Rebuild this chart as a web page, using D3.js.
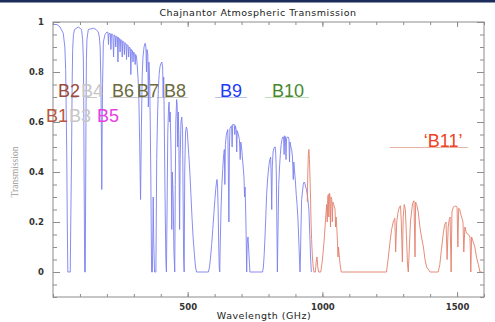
<!DOCTYPE html>
<html>
<head>
<meta charset="utf-8">
<script src="https://cdn.jsdelivr.net/npm/d3@7"></script>
<style>
  body { margin: 0; background: #fff; }
  svg { display: block; }
</style>
</head>
<body>
<div id="chart"></div>
<script>
// transmission, [GHz, transmission]
const lowFreq = [
  [0,0.99],[15,0.99],[26,0.98],[38,0.955],[44,0.9],[47,0.81],[49,0.65],[51,0.48],[53,0.2],[55,0.0],
  [64,0.0],[66,0.2],[69,0.48],[71,0.75],[73,0.89],[76,0.95],[80,0.97],[94,0.98],[106,0.97],[110,0.93],
  [112.5,0.86],[114,0.7],[115,0.48],[116.5,0.2],[117.5,0.0],[120,0.0],[121,0.3],[122.5,0.62],[124,0.85],
  [126,0.93],[131,0.97],[150,0.975],[160,0.97],[168,0.96],[172,0.94],[175,0.9],[178,0.75],[180,0.5],
  [181,0.33],[182,0.5],[184,0.75],[187,0.92],[193,0.95],[200,0.96]
];
const b6b7 = [
  [204,0.958],[206,0.91],[208,0.955],[213,0.953],[215,0.89],[217,0.952],[222,0.95],[225,0.86],[227,0.948],
  [231,0.945],[233,0.9],[235,0.943],[239,0.94],[241,0.84],[243,0.938],[247,0.933],[249,0.88],[251,0.93],
  [255,0.927],[257,0.86],[259,0.924],[263,0.92],[265,0.87],[267,0.917],[271,0.913],[273,0.85],[275,0.91],
  [279,0.905],[281,0.86],[283,0.9],[287,0.895],[289,0.79],[291,0.89],[295,0.885],[297,0.84],[299,0.88],
  [303,0.875],[305,0.83],[307,0.87],[310,0.86],[313,0.82],[316,0.77],[319,0.68],[322,0.5],[325,0.29],
  [328,0.56],[331,0.78],[334,0.86],[338,0.9],[342,0.915],[345,0.9],[347,0.8],[349,0.89],[352,0.87],
  [354,0.66],[356,0.84],[359,0.76],[361,0.6],[363,0.4],[366,0.0]
];
const b8 = [
  [369,0.0],[372,0.3],[374,0.12],[377,0.0],[382,0.0],[385,0.45],[388,0.62],[391,0.73],[394,0.79],
  [397,0.82],[401,0.835],[404,0.84],[407,0.82],[409,0.7],[411,0.78],[413,0.6],[416,0.3],[419,0.05],
  [421,0.0],[423,0.2],[426,0.55],[429,0.66],[431,0.68],[433,0.6],[435,0.64],[438,0.5],[440,0.3],
  [441,0.17],[443,0.4],[446,0.3],[449,0.08],[452,0.0],[454,0.35],[456,0.6],[459,0.69],[461,0.67],
  [463,0.5],[465,0.64],[467,0.55],[469,0.3],[470,0.17],[472,0.45],[475,0.6],[478,0.62],[481,0.57],
  [483,0.3],[485,0.05],[487,0.0],[489,0.4],[492,0.56],[495,0.58],[498,0.57],[501,0.52],[504,0.47],
  [508,0.4],[512,0.31],[516,0.22],[520,0.14],[525,0.07],[529,0.02],[533,0.0]
];
const b9 = [
  [577,0.0],[581,0.02],[585,0.06],[589,0.11],[593,0.17],[597,0.23],[601,0.29],[604,0.33],[607,0.36],
  [609,0.37],[611,0.34],[613,0.25],[615,0.12],[617,0.02],[619,0.0],[621,0.12],[624,0.26],[627,0.35],
  [630,0.41],[633,0.46],[636,0.49],[638,0.35],[640,0.51],[643,0.545],[646,0.56],[649,0.57],[651,0.4],
  [653,0.2],[655,0.5],[657,0.575],[660,0.58],[663,0.585],[665,0.5],[667,0.59],[670,0.59],[673,0.59],
  [675,0.55],[677,0.585],[680,0.57],[682,0.48],[684,0.565],[688,0.55],[692,0.53],[695,0.45],[697,0.52],
  [700,0.5],[703,0.46],[706,0.42],[709,0.38],[711,0.3],[713,0.34],[715,0.26],[717,0.15],[719,0.0],
  [721,0.12],[724,0.14],[727,0.08],[731,0.0],[778,0.0]
];
const b10 = [
  [781,0.02],[784,0.07],[787,0.14],[790,0.22],[793,0.31],[796,0.36],[799,0.4],[802,0.43],[805,0.45],
  [808,0.46],[810,0.38],[812,0.25],[814,0.42],[817,0.48],[820,0.495],[823,0.5],[825,0.5],[827,0.47],
  [829,0.4],[831,0.2],[833,0.0],[835,0.15],[838,0.35],[841,0.42],[844,0.47],[847,0.51],[850,0.53],
  [853,0.54],[856,0.54],[858,0.47],[860,0.545],[863,0.54],[865,0.45],[867,0.535],[870,0.54],[873,0.54],
  [876,0.53],[878,0.44],[880,0.52],[883,0.5],[886,0.49],[889,0.46],[892,0.37],[894,0.44],[897,0.4],
  [900,0.36],[903,0.31],[906,0.27],[909,0.22],[912,0.14],[915,0.05],[917,0.0],[919,0.08],[921,0.2],
  [923,0.29],[926,0.32],[929,0.35],[932,0.36],[935,0.355],[938,0.34],[941,0.33],[944,0.31],[947,0.28],
  [950,0.25],[953,0.16],[956,0.06],[959,0.0]
];
const highFreq = [
  [944,0.28],[946,0.4],[948,0.47],[950,0.49],[952,0.45],[954,0.38],[956,0.3],[958,0.2],[960,0.13],
  [963,0.06],[966,0.02],[969,0.0],[974,0.0],[977,0.04],[980,0.06],[983,0.02],[986,0.0],[994,0.0],
  [998,0.03],[1002,0.07],[1006,0.12],[1010,0.18],[1013,0.23],[1016,0.27],[1018,0.2],[1020,0.3],
  [1022,0.31],[1024,0.22],[1026,0.315],[1028,0.31],[1030,0.18],[1032,0.3],[1035,0.29],[1037,0.2],
  [1039,0.28],[1042,0.27],[1045,0.26],[1047,0.25],[1049,0.18],[1051,0.22],[1054,0.17],[1056,0.12],
  [1058,0.06],[1060,0.1],[1063,0.06],[1066,0.03],[1070,0.0],[1238,0.0],
  [1245,0.06],[1251,0.12],[1257,0.17],[1263,0.2],[1269,0.215],[1272,0.08],[1276,0.2],[1281,0.24],
  [1286,0.26],[1290,0.265],[1293,0.2],[1297,0.04],[1300,0.22],[1304,0.27],[1308,0.25],[1312,0.15],
  [1316,0.03],[1319,0.0],[1323,0.1],[1327,0.2],[1331,0.24],[1335,0.275],[1340,0.285],[1344,0.06],
  [1346,0.28],[1350,0.27],[1356,0.24],[1362,0.18],[1368,0.14],[1375,0.1],[1381,0.05],[1387,0.02],
  [1400,0.0],[1430,0.0],
  [1436,0.03],[1442,0.09],[1449,0.155],[1454,0.19],[1459,0.2],[1463,0.05],[1467,0.18],[1471,0.21],
  [1474,0.22],[1478,0.0],[1481,0.24],[1486,0.26],[1491,0.263],[1496,0.264],[1500,0.26],[1503,0.1],
  [1506,0.255],[1510,0.25],[1514,0.23],[1517,0.22],[1522,0.2],[1525,0.08],[1529,0.18],[1535,0.155],
  [1542,0.15],[1548,0.14],[1551,0.0],[1554,0.14],[1560,0.12],[1566,0.1],[1572,0.06],[1579,0.03],
  [1585,0.0],[1592,0.0]
];

// ALMA bands
const bandNames = ['B1', 'B2', 'B3', 'B4', 'B5', 'B6', 'B7', 'B8', 'B9', 'B10', '\u2018B11\u2019'];
const bandLo    = [31, 67, 84, 125, 163, 211, 275, 385, 602, 787, 1250];
const bandHi    = [45, 90, 116, 163, 211, 275, 373, 500, 720, 950, 1540];
const bandLevel = [0.6, 0.7, 0.6, 0.7, 0.6, 0.7, 0.7, 0.7, 0.7, 0.7, 0.5];
const labelAt   = [15, 59, 100, 145, 204, 260, 353, 453, 661, 872, 1448];

const yTicks = [0, 0.2, 0.4, 0.6, 0.8, 1];
const xTicks = [500, 1000, 1500];

const bandColor = ['#b9573f', '#9c4a3b', '#c6c6c6', '#c6c6c6', '#e640e6', '#6a6a3c', '#6a6a3c',
                   '#6a6a3c', '#1e3cf5', '#44892c', '#f0421e'];
const lineColor = ['#c8c8c8', '#c8c8c8', '#c8c8c8', '#c8c8c8', '#c8c8c8', '#c8c8c8', '#c8c8c8',
                   '#c8c8c8', '#b8c2ea', '#c2ddb4', '#e9b2a4'];

const width = 495, height = 322;
const margin = { top: 22, right: 11, bottom: 25, left: 53 };

const svg = d3.select('#chart').append('svg')
  .attr('width', width)
  .attr('height', height);

svg.append('rect')
  .attr('width', width).attr('height', 2.5)
  .attr('fill', '#1b2b5c');

const x = d3.scaleLinear().domain([0, 1600]).range([margin.left, width - margin.right]);
const y = d3.scaleLinear().domain([-0.1, 1]).range([height - margin.bottom, margin.top]);

const line = d3.line().x(d => x(d[0])).y(d => y(d[1]));

// band range lines
svg.append('g')
  .selectAll('line')
  .data(bandNames.map((n, i) => i).filter(i => bandLevel[i] !== 0.6))
  .enter().append('line')
  .attr('x1', i => x(bandLo[i]))
  .attr('x2', i => x(bandHi[i]))
  .attr('y1', i => y(bandLevel[i]) + 0.5)
  .attr('y2', i => y(bandLevel[i]) + 0.5)
  .style('stroke', i => lineColor[i])
  .style('stroke-width', 1);

const blue = [].concat(lowFreq, b6b7, b8, b9, b10);

svg.append('path')
  .datum(blue)
  .attr('d', line)
  .style('fill', 'none')
  .style('stroke', '#7a80ee')
  .style('stroke-width', 0.9)
  .style('stroke-linejoin', 'round');

svg.append('path')
  .datum(highFreq)
  .attr('d', line)
  .style('fill', 'none')
  .style('stroke', '#e2806c')
  .style('stroke-width', 0.9)
  .style('stroke-linejoin', 'round');

// frame and ticks
const axes = svg.append('g').attr('class', 'axes');
const minorY = d3.range(-2, 21).map(k => k * 0.05);
const minorX = d3.range(0, 17).map(k => k * 100);

function styleAxis(g) {
  g.select('.domain').remove();
  g.selectAll('line').style('stroke', '#8c8c8c');
  g.selectAll('text')
    .style('font-family', 'DejaVu Sans, sans-serif')
    .style('font-weight', 'bold')
    .style('font-size', '8.5px')
    .style('fill', '#333');
}

axes.append('g').attr('transform', `translate(${margin.left},0)`)
  .call(d3.axisLeft(y).tickValues(minorY).tickSize(-4).tickFormat('')).call(styleAxis);
axes.append('g').attr('transform', `translate(${margin.left},0)`)
  .call(d3.axisLeft(y).tickValues(yTicks).tickSize(-7).tickPadding(9).tickFormat(d => String(d))).call(styleAxis);
axes.append('g').attr('transform', `translate(${width - margin.right},0)`)
  .call(d3.axisRight(y).tickValues(minorY).tickSize(-4).tickFormat('')).call(styleAxis);
axes.append('g').attr('transform', `translate(${width - margin.right},0)`)
  .call(d3.axisRight(y).tickValues(yTicks).tickSize(-7).tickFormat('')).call(styleAxis);
axes.append('g').attr('transform', `translate(0,${height - margin.bottom})`)
  .call(d3.axisBottom(x).tickValues(minorX).tickSize(-3).tickFormat('')).call(styleAxis);
axes.append('g').attr('transform', `translate(0,${height - margin.bottom})`)
  .call(d3.axisBottom(x).tickValues(xTicks).tickSize(-5).tickPadding(7).tickFormat(d => String(d))).call(styleAxis);
axes.append('g').attr('transform', `translate(0,${margin.top})`)
  .call(d3.axisTop(x).tickValues(minorX).tickSize(-3).tickFormat('')).call(styleAxis);
axes.append('g').attr('transform', `translate(0,${margin.top})`)
  .call(d3.axisTop(x).tickValues(xTicks).tickSize(-5).tickFormat('')).call(styleAxis);

axes.append('rect')
  .attr('x', margin.left).attr('y', margin.top)
  .attr('width', width - margin.left - margin.right)
  .attr('height', height - margin.top - margin.bottom)
  .style('fill', 'none')
  .style('stroke', '#8c8c8c');

// band labels
svg.append('g')
  .selectAll('text')
  .data(bandNames)
  .enter().append('text')
  .attr('x', (d, i) => x(labelAt[i]))
  .attr('y', (d, i) => y(bandLevel[i]) - 0.5)
  .attr('text-anchor', 'middle')
  .style('font-family', 'Liberation Sans, Arial, sans-serif')
  .style('font-size', '18px')
  .style('fill', (d, i) => bandColor[i])
  .text(d => d);

// titles
svg.append('text')
  .attr('x', 258).attr('y', 16)
  .attr('text-anchor', 'middle')
  .style('font-family', 'DejaVu Sans, sans-serif')
  .style('font-size', '9.5px')
  .style('letter-spacing', '0.5px')
  .style('fill', '#222')
  .text('Chajnantor Atmospheric Transmission');

svg.append('text')
  .attr('x', 264).attr('y', 319)
  .attr('text-anchor', 'middle')
  .style('font-family', 'DejaVu Sans, sans-serif')
  .style('font-size', '9.5px')
  .style('letter-spacing', '0.5px')
  .style('fill', '#222')
  .text('Wavelength (GHz)');

svg.append('text')
  .attr('transform', 'translate(18,172) rotate(-90)')
  .attr('text-anchor', 'middle')
  .style('font-family', 'Liberation Serif, serif')
  .style('font-size', '9.5px')
  .style('fill', '#9a9a9a')
  .text('Transmission');
</script>
</body>
</html>
